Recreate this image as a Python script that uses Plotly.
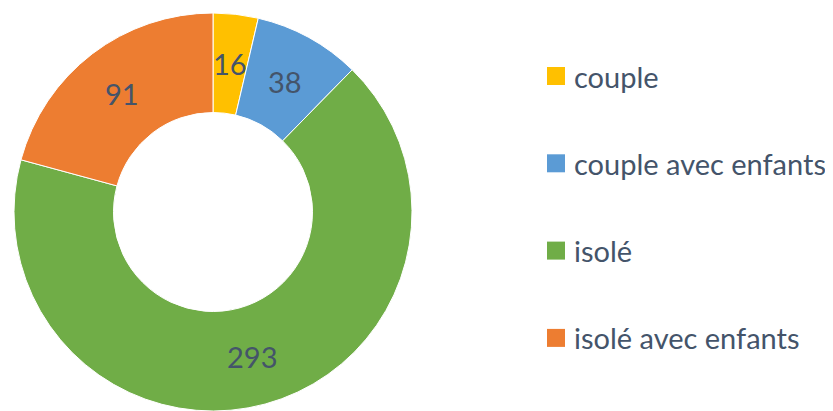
import math
import plotly.graph_objects as go

labels = ["couple", "couple avec enfants", "isolé", "isolé avec enfants"]
values = [16, 38, 293, 91]
colors = ["#FFC000", "#5B9BD5", "#70AD47", "#ED7D31"]

OFF = 8  # page body margin
W, H = 833 - OFF, 411 - OFF
FONT = "Lato, 'Open Sans', sans-serif"
TXT = "#44546A"
HOLE = 0.5

def px(x):
    return (x - OFF) / W

def py(y):
    return (H - (y - OFF)) / H

cx, cy, R = 213, 212, 199

fig = go.Figure(go.Pie(
    labels=labels,
    values=values,
    hole=HOLE,
    sort=False,
    direction="clockwise",
    rotation=0,
    marker=dict(colors=colors, line=dict(color="white", width=1)),
    textinfo="none",
    domain=dict(x=[px(cx - R), px(cx + R)], y=[max(0, py(cy + R)), py(cy - R)]),
    showlegend=False,
))

# Data labels at mid-angle, mid-ring (like the original)
total = sum(values)
cum = 0
r_lab = R * (1 + HOLE) / 2
for v in values:
    ang = (cum + v / 2) / total * 2 * math.pi
    cum += v
    lx = cx + r_lab * math.sin(ang)
    ly = cy - r_lab * math.cos(ang)
    fig.add_annotation(xref="paper", yref="paper", x=px(lx), y=py(ly),
                       text=str(v), showarrow=False, xanchor="center", yanchor="middle",
                       font=dict(family=FONT, size=29, color=TXT))

# Legend drawn as shapes + text annotations
leg_x0 = 547
leg_sq = 18
leg_text_x = 572
leg_y0 = 76
leg_step = 87.3
for i, (lab, col) in enumerate(zip(labels, colors)):
    yc = leg_y0 + i * leg_step
    fig.add_shape(type="rect", xref="paper", yref="paper",
                  x0=px(leg_x0), x1=px(leg_x0 + leg_sq),
                  y0=py(yc + leg_sq / 2), y1=py(yc - leg_sq / 2),
                  fillcolor=col, line=dict(width=0))
    fig.add_annotation(xref="paper", yref="paper", x=px(leg_text_x), y=py(yc),
                       text=lab, showarrow=False, xanchor="left", yanchor="middle",
                       font=dict(family=FONT, size=29, color=TXT))

fig.update_layout(
    width=W, height=H,
    margin=dict(l=0, r=0, t=0, b=0),
    paper_bgcolor="white", plot_bgcolor="white",
)

fig.write_html("out.html")
